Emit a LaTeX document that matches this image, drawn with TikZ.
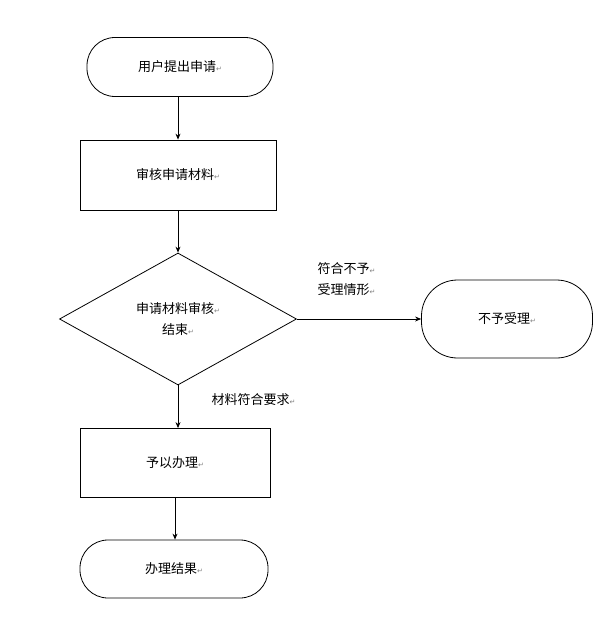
\documentclass[tikz,border=0pt]{standalone}
\usepackage{fontspec}
\setmainfont{Noto Sans CJK SC}
\newfontfamily\symf{DejaVu Sans}
\usetikzlibrary{shapes.geometric,arrows.meta}
\newcommand{\rmk}{{\symf\fontsize{7}{7}\selectfont\textcolor{gray}{↵}}}
\begin{document}
\begin{tikzpicture}[x=1pt,y=-1pt,line width=0.8pt,
  every node/.style={font=\fontsize{13}{21}\selectfont},
  term/.style={draw,rounded corners=28pt,minimum width=186pt,minimum height=59pt},
  box/.style={draw,minimum width=196pt,minimum height=70pt},
  dia/.style={draw,diamond,aspect=1.8,inner sep=0pt,minimum width=237pt,minimum height=132pt,align=center},
  arr/.style={-{Stealth[length=6pt,width=5pt]}},
  lbl/.style={align=left}]
\useasboundingbox (0,0) rectangle (613,636);
\node[term] (start) at (180,67) {用户提出申请\rmk};
\node[box] (check) at (178,175) {审核申请材料\rmk};
\node[dia] (dec) at (178,319) {申请材料审核\rmk\\结束\rmk};
\node[term,minimum width=171pt,minimum height=78pt,rounded corners=36pt] (rej) at (507,319) {不予受理\rmk};
\node[box,minimum width=190pt,minimum height=69pt] (do) at (175,463) {予以办理\rmk};
\node[term,minimum width=188pt,minimum height=58pt] (res) at (174,569) {办理结果\rmk};
\node[lbl,anchor=west] (l1) at (314,279) {符合不予\rmk\\受理情形\rmk};
\node[lbl,anchor=west] (l2) at (208,400) {材料符合要求\rmk};
\draw[arr] (start.south -| 178,0) -- (check.north);
\draw[arr] (check) -- (dec);
\draw[arr] (dec.east) -- (rej.west);
\draw[arr] (dec.south) -- (do.north -| dec.south);
\draw[arr] (do.south -| 175,0) -- (res.north -| 175,0);
\end{tikzpicture}
\end{document}
